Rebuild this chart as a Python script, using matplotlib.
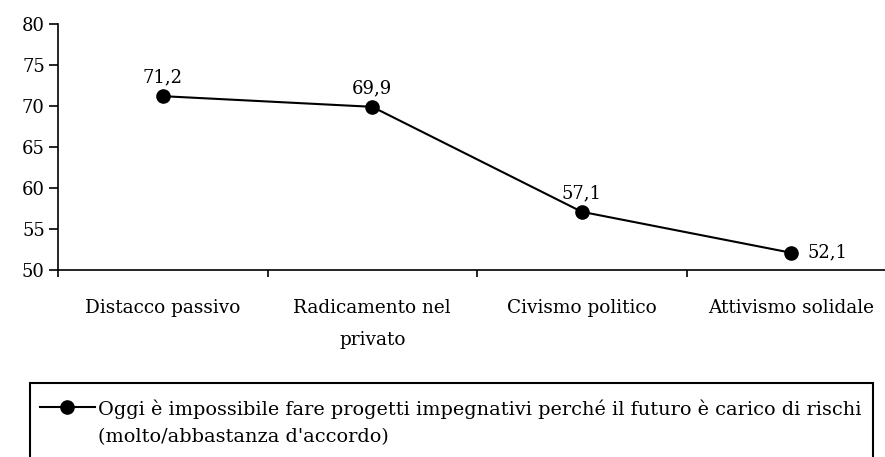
import matplotlib
matplotlib.use("Agg")
import matplotlib.pyplot as plt
from matplotlib.lines import Line2D
from matplotlib.patches import Rectangle

categories = ["Distacco passivo", "Radicamento nel\nprivato", "Civismo politico", "Attivismo solidale"]
values = [71.2, 69.9, 57.1, 52.1]
value_labels = ["71,2", "69,9", "57,1", "52,1"]
yticks = [50, 55, 60, 65, 70, 75, 80]
legend_lines = ["Oggi è impossibile fare progetti impegnativi perché il futuro è carico di rischi",
                "(molto/abbastanza d'accordo)"]

FONT = "DejaVu Serif"
FS = 13

W, H = 885, 457
fig = plt.figure(figsize=(W / 100, H / 100), dpi=100)
ax = fig.add_axes([58 / W, (H - 270) / H, 838 / W, 246 / H])

x = list(range(len(categories)))
ax.plot(x, values, color="black", lw=1.5, marker="o", ms=9.5, mfc="black", mec="black", clip_on=False)

ax.set_xlim(-0.5, len(categories) - 0.5)
ax.set_ylim(50, 80)
ax.set_yticks(yticks)
ax.set_yticklabels([str(v) for v in yticks], fontfamily=FONT, fontsize=FS)
ax.set_xticks(x)
ax.set_xticklabels(categories, fontfamily=FONT, fontsize=13.3, linespacing=2.0, va="top")
ax.set_xticks([i - 0.5 for i in range(len(categories) + 1)], minor=True)
ax.tick_params(axis="x", which="major", length=0, pad=21)
ax.tick_params(axis="x", which="minor", length=5, width=1.2, direction="out")
ax.tick_params(axis="y", which="major", length=6.5, width=1.2, direction="out", pad=3)

for s in ["top", "right"]:
    ax.spines[s].set_visible(False)
for s in ["left", "bottom"]:
    ax.spines[s].set_linewidth(1.2)

for i, (v, lab) in enumerate(zip(values, value_labels)):
    if i == len(values) - 1:
        ax.annotate(lab, (i, v), xytext=(12, 0), textcoords="offset points",
                    ha="left", va="center", fontfamily=FONT, fontsize=FS)
    else:
        ax.annotate(lab, (i, v), xytext=(0, 7), textcoords="offset points",
                    ha="center", va="bottom", fontfamily=FONT, fontsize=FS)

# legend box (manual)
fig.patches.append(Rectangle((30 / W, -10 / H), (873 - 30) / W, (H - 383 + 10) / H,
                             transform=fig.transFigure, fill=False, ec="black", lw=1.5))
fig.lines.append(Line2D([40 / W, 95 / W], [(H - 407) / H] * 2, transform=fig.transFigure,
                        color="black", lw=1.5))
fig.lines.append(Line2D([67 / W], [(H - 407) / H], transform=fig.transFigure,
                        color="black", marker="o", ms=9.5, ls="none"))
for k, line in enumerate(legend_lines):
    fig.text(98 / W, (H - 407 - 28 * k) / H, line, ha="left", va="center_baseline",
             fontfamily=FONT, fontsize=13.9, transform=fig.transFigure)

fig.savefig("out.png", dpi=100)
